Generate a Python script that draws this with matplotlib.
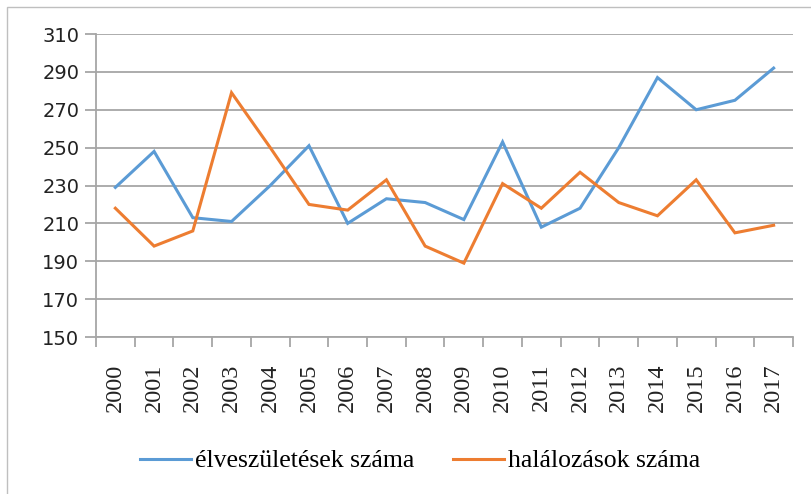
import matplotlib
matplotlib.use("Agg")
import matplotlib.pyplot as plt
from matplotlib.patches import Rectangle
import numpy as np

years = [str(y) for y in range(2000, 2018)]
births = [229, 248, 213, 211, 230, 251, 210, 223, 221, 212, 253, 208, 218, 250, 287, 270, 275, 292]
deaths = [218, 198, 206, 279, 250, 220, 217, 233, 198, 189, 231, 218, 237, 221, 214, 233, 205, 209]
yticks = list(range(150, 311, 20))
labels = ["élveszületések száma", "halálozások száma"]

blue = "#5b9bd5"
orange = "#ed7d31"
grid = "#a6a6a6"

W, H = 812, 494
fig = plt.figure(figsize=(W / 100, H / 100), dpi=100)
fig.patches.append(Rectangle((7 / W, -0.1), 1.2, (H - 7) / H + 0.1, transform=fig.transFigure,
                             fill=False, edgecolor="#bfbfbf", linewidth=1))

ax = fig.add_axes([96 / W, 1 - 337 / H, (793 - 96) / W, (337 - 34) / H])
x = np.arange(len(years))
l1, = ax.plot(x, births, color=blue, linewidth=2.2, solid_joinstyle="miter")
l2, = ax.plot(x, deaths, color=orange, linewidth=2.2, solid_joinstyle="miter")

ax.set_xlim(-0.5, len(years) - 0.5)
ax.set_ylim(150, 310)
ax.set_yticks(yticks)
ax.set_yticklabels([str(v) for v in yticks], fontfamily="DejaVu Sans", fontsize=14, color="#222222")
ax.yaxis.grid(True, color=grid, linewidth=1.3)
ax.set_axisbelow(True)
ax.tick_params(axis="y", length=8, width=1.3, color=grid, pad=4)

ax.set_xticks(np.arange(-0.5, len(years) + 0.5, 1.0), minor=False)
ax.set_xticklabels([])
ax.set_xticks(x, minor=True)
ax.set_xticklabels(years, minor=True, rotation=90, fontfamily="Liberation Serif", fontsize=17.5, color="#222222")
ax.tick_params(axis="x", which="major", length=7, width=1.3, color=grid, direction="out")
ax.tick_params(axis="x", which="minor", length=0, pad=19)

for s in ["top", "right"]:
    ax.spines[s].set_visible(False)
for s in ["left", "bottom"]:
    ax.spines[s].set_color(grid)
    ax.spines[s].set_linewidth(1.3)

fig.legend([l1, l2], labels, loc="center", bbox_to_anchor=(420 / W, 1 - 461 / H), ncol=2,
           frameon=False, prop={"family": "Liberation Serif", "size": 18.5},
           handlelength=2.0, columnspacing=1.5, handletextpad=0.15)

fig.savefig("out.png", dpi=100)
